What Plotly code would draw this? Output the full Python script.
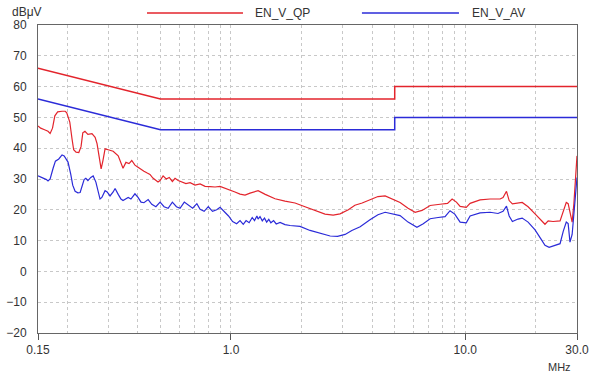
import math
import plotly.graph_objects as go

# ---- Data ----
qp_limit_freq = [0.15, 0.5, 5.0, 5.0, 30.0]
qp_limit_val = [66, 56, 56, 60, 60]
av_limit_freq = [0.15, 0.5, 5.0, 5.0, 30.0]
av_limit_val = [56, 46, 46, 50, 50]

qp_freq = [0.150, 0.154, 0.160, 0.1655, 0.169, 0.173, 0.177, 0.182, 0.190, 0.196, 0.199, 0.205,
           0.2096, 0.213, 0.218, 0.224, 0.229, 0.233, 0.238, 0.245, 0.255, 0.263, 0.268, 0.274,
           0.279, 0.284, 0.290, 0.299, 0.314, 0.330, 0.339, 0.346, 0.356, 0.367, 0.377, 0.389,
           0.401, 0.413, 0.425, 0.437, 0.451, 0.464, 0.478, 0.488, 0.498, 0.513, 0.529, 0.545,
           0.562, 0.577, 0.595, 0.618, 0.642, 0.669, 0.702, 0.738, 0.775, 0.814, 0.855, 0.898,
           0.943, 0.990, 1.040, 1.093, 1.148, 1.206, 1.305, 1.400, 1.542, 1.70, 1.877, 2.07,
           2.28, 2.52, 2.73, 2.92, 3.17, 3.38, 3.63, 3.92, 4.24, 4.55, 4.87, 5.27, 5.70, 6.11,
           6.54, 7.08, 7.81, 8.40, 8.79, 9.17, 9.51, 10.1, 10.49, 11.57, 12.77, 14.09, 14.5,
           15.0, 15.4, 15.9, 17.5, 18.55, 19.86, 21.07, 21.9, 22.6, 23.7, 25.4, 26.2, 27.0,
           27.5, 28.0, 28.6, 29.1, 29.7, 30.0]
qp_val = [47.2, 46.5, 46.0, 45.5, 44.8, 46.5, 50.5, 51.8, 52.0, 52.0, 51.5, 48.5,
          43.0, 39.5, 38.7, 38.6, 40.5, 45.0, 45.5, 44.5, 44.7, 43.5, 41.5, 36.0,
          33.3, 36.0, 39.8, 39.5, 39.0, 37.5, 35.0, 33.5, 35.4, 35.0, 36.0, 34.5,
          33.8, 33.0, 32.5, 32.0, 31.5, 30.3, 29.5, 29.0, 29.5, 31.0, 30.0, 30.5,
          29.2, 30.2, 29.5, 29.0, 28.5, 28.8, 28.0, 28.4, 27.6, 27.5, 27.4, 27.6,
          27.0, 26.6, 25.8, 25.1, 24.8, 25.4, 26.2, 25.0, 23.6, 22.8, 22.2, 21.0,
          19.8, 18.6, 18.3, 18.7, 20.0, 21.5, 22.2, 23.3, 24.3, 24.5, 23.6, 22.4, 20.5, 19.2,
          19.8, 21.4, 21.8, 22.1, 23.5, 22.5, 21.1, 20.8, 22.1, 23.2, 23.5, 23.5, 24.0,
          26.0, 23.0, 21.9, 22.4, 21.0, 18.7, 16.5, 15.3, 16.4, 16.2, 16.4, 19.5, 22.4,
          22.0, 19.0, 16.0, 22.0, 31.0, 37.5]

av_freq = [0.150, 0.156, 0.163, 0.1655, 0.169, 0.174, 0.178, 0.184, 0.190, 0.194, 0.198, 0.2015,
           0.207, 0.211, 0.216, 0.222, 0.227, 0.231, 0.236, 0.240, 0.245, 0.252, 0.258, 0.265,
           0.271, 0.276, 0.281, 0.290, 0.296, 0.3045, 0.314, 0.320, 0.330, 0.339, 0.346, 0.356,
           0.364, 0.374, 0.389, 0.401, 0.413, 0.425, 0.443, 0.459, 0.478, 0.498, 0.518, 0.539,
           0.562, 0.585, 0.606, 0.632, 0.658, 0.686, 0.715, 0.738, 0.768, 0.800, 0.834, 0.869,
           0.898, 0.936, 0.976, 1.016, 1.057, 1.093, 1.128, 1.160, 1.195, 1.232, 1.26, 1.29,
           1.305, 1.33, 1.36, 1.39, 1.42, 1.45, 1.48, 1.52, 1.56, 1.62, 1.70, 1.787, 1.877,
           1.971, 2.175, 2.40, 2.65, 2.85, 3.07, 3.28, 3.56, 3.92, 4.24, 4.55, 4.87, 5.27,
           5.70, 6.22, 6.62, 7.08, 7.66, 8.20, 8.61, 9.02, 9.51, 10.1, 10.49, 11.57, 12.77,
           13.8, 14.5, 15.0, 15.4, 15.9, 16.8, 17.5, 18.55, 19.86, 21.07, 21.9, 22.8, 24.2,
           25.4, 26.2, 27.0, 27.5, 28.0, 28.6, 29.1, 29.7, 30.0]
av_val = [31.0, 30.5, 29.8, 29.4, 30.0, 33.5, 35.8, 36.5, 37.8, 37.5, 36.5, 35.5,
          31.5, 28.0, 26.0, 25.5, 25.6, 27.5, 29.8, 30.2, 29.5, 30.5, 31.0, 29.0,
          26.0, 23.5, 24.0, 26.2, 25.8, 24.5, 25.8, 26.9, 25.0, 23.5, 23.0, 23.5,
          24.0, 23.5, 25.2, 24.0, 22.5, 22.3, 23.3, 21.8, 21.0, 22.5, 21.0, 20.5,
          22.5, 21.0, 20.5, 22.5, 21.5, 20.5, 22.0, 20.2, 19.5, 21.0, 19.5, 20.0,
          20.8, 19.5, 18.0, 16.2, 15.5, 16.5, 15.3, 16.5, 15.8, 17.5, 16.5, 18.0,
          17.0, 17.8, 16.4, 17.3, 16.0, 16.9, 15.8, 16.5, 15.4, 15.9, 15.2, 14.9, 14.8,
          14.6, 13.3, 12.4, 11.5, 11.4, 12.0, 13.3, 14.5, 16.8, 18.4, 19.2, 18.8, 18.1,
          16.0, 14.3, 15.5, 17.1, 17.5, 17.8, 19.7, 18.6, 16.0, 15.8, 18.0, 19.0, 19.2,
          18.8, 19.5, 21.2, 18.0, 16.2, 17.0, 17.3, 16.0, 13.5, 10.5, 8.5, 7.8, 8.5,
          9.0, 13.0, 16.0, 15.5, 9.5, 12.0, 18.0, 26.0, 30.5]

x_tick_vals = [0.15, 1.0, 10.0, 30.0]
x_tick_text = ["0.15", "1.0", "10.0", "30.0"]
x_minor_vals = [0.2, 0.3, 0.4, 0.5, 0.6, 0.7, 0.8, 0.9, 2, 3, 4, 5, 6, 7, 8, 9, 20]
y_tick_vals = [-20, -10, 0, 10, 20, 30, 40, 50, 60, 70, 80]

RED = "#e3242c"
BLUE = "#2b2bd8"
FONT = "Arial, Liberation Sans, sans-serif"

fig = go.Figure()
fig.add_trace(go.Scatter(x=qp_limit_freq, y=qp_limit_val, mode="lines",
                         line=dict(color=RED, width=1.5), name="EN_V_QP", showlegend=False))
fig.add_trace(go.Scatter(x=av_limit_freq, y=av_limit_val, mode="lines",
                         line=dict(color=BLUE, width=1.5), name="EN_V_AV", showlegend=False))
fig.add_trace(go.Scatter(x=qp_freq, y=qp_val, mode="lines",
                         line=dict(color=RED, width=1.2), showlegend=False))
fig.add_trace(go.Scatter(x=av_freq, y=av_val, mode="lines",
                         line=dict(color=BLUE, width=1.2), showlegend=False))

# legend drawn as shapes + text at top
fig.add_shape(type="line", xref="paper", yref="paper", x0=0.2022, x1=0.3803, y0=1.039, y1=1.039,
              line=dict(color=RED, width=1.5))
fig.add_shape(type="line", xref="paper", yref="paper", x0=0.601, x1=0.781, y0=1.039, y1=1.039,
              line=dict(color=BLUE, width=1.5))
fig.add_annotation(text="EN_V_QP", xref="paper", yref="paper", x=0.399, y=1.039,
                   xanchor="left", yanchor="middle", showarrow=False,
                   font=dict(family=FONT, size=12, color="#333333"))
fig.add_annotation(text="EN_V_AV", xref="paper", yref="paper", x=0.8015, y=1.039,
                   xanchor="left", yanchor="middle", showarrow=False,
                   font=dict(family=FONT, size=12, color="#333333"))
fig.add_annotation(text="dBμV", xref="paper", yref="paper", x=-0.052, y=1.042,
                   xanchor="left", yanchor="middle", showarrow=False,
                   font=dict(family=FONT, size=12, color="#333333"))
fig.add_annotation(text="MHz", xref="paper", yref="paper", x=0.968, y=-0.11,
                   xanchor="center", yanchor="middle", showarrow=False,
                   font=dict(family=FONT, size=11, color="#333333"))

fig.update_layout(
    width=595, height=374,
    margin=dict(l=38, r=18, t=25, b=41),
    paper_bgcolor="white", plot_bgcolor="white",
    font=dict(family=FONT, size=12, color="#333333"),
    showlegend=False,
)
fig.update_xaxes(
    type="log", range=[math.log10(0.15), math.log10(30.0)],
    tickmode="array", tickvals=x_tick_vals, ticktext=x_tick_text,
    ticks="outside", ticklen=6, tickcolor="#555555",
    showgrid=True, gridcolor="#c8c8c8", griddash="dot", gridwidth=1,
    minor=dict(tickmode="array", tickvals=x_minor_vals, showgrid=True,
               gridcolor="#c8c8c8", griddash="dot", ticks=""),
    showline=True, linecolor="#666666", linewidth=1, mirror=True,
    zeroline=False, tickfont=dict(size=12), automargin=False,
)
fig.update_yaxes(
    range=[-20, 80], tickmode="array", tickvals=y_tick_vals,
    showgrid=True, gridcolor="#c8c8c8", griddash="dot", gridwidth=1,
    showline=True, linecolor="#666666", linewidth=1, mirror=True,
    zeroline=False, ticks="", ticklabelstandoff=8, tickfont=dict(size=12),
    automargin=False,
)

fig.write_html(
    "out.html",
    config={"displayModeBar": False},
    post_script="document.body.style.margin='0';document.body.style.overflow='hidden';",
)
